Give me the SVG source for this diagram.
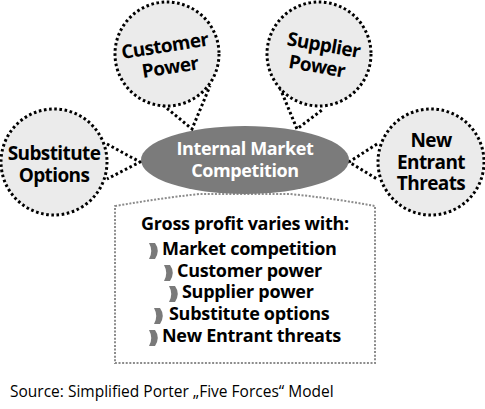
<svg xmlns="http://www.w3.org/2000/svg" width="485" height="409" viewBox="0 0 485 409">
<style>
.force{fill:#ebebeb;stroke:#000;stroke-width:3;stroke-dasharray:2.6 2.6}
.link{fill:none;stroke:#000;stroke-width:3;stroke-dasharray:2.6 2.6}
.lbl{font-family:"Open Sans","Liberation Sans",sans-serif;font-weight:700;font-size:19px;letter-spacing:-0.6px;text-anchor:middle;fill:#000}
.hub{fill:#7b7b7b}
.hubt{font-family:"Open Sans","Liberation Sans",sans-serif;font-weight:700;font-size:18px;letter-spacing:-0.4px;text-anchor:middle;fill:#fff}
.box{fill:#fff;stroke:#8c8c8c;stroke-width:2;stroke-dasharray:2 1.6}
.bt{font-family:"Open Sans","Liberation Sans",sans-serif;font-weight:700;font-size:18px;letter-spacing:-0.3px;fill:#000}
.bul{fill:#7a7a7a}
.src{font-family:"Open Sans","Liberation Sans",sans-serif;font-size:15.5px;fill:#000}
</style>
<defs>
<path id="bullet" d="M0,0 L6,0 Q11.5,7.5 6,16 L0,16 Q4.5,8 0,0 Z"/>
</defs>
<rect width="485" height="409" fill="#fff"/>
<g id="connectors">
<path class="link" d="M163,105 L192,129 L210,86"/>
<path class="link" d="M280,88 L297,129 L322,110"/>
<path class="link" d="M107,144 L140,162 L107,179"/>
<path class="link" d="M377,144 L349,162 L377,179"/>
</g>
<g id="profit-box">
<path class="box" d="M115,206 C145,201 170,197 200,194 L290,194 C320,197 348,201 375,206 L375,363 L115,363 Z"/>
<text class="bt" x="141" y="230">Gross profit varies with:</text>
<use class="bul" href="#bullet" x="149" y="243"/>
<text class="bt" x="162" y="255">Market competition</text>
<use class="bul" href="#bullet" x="164" y="265"/>
<text class="bt" x="177" y="277">Customer power</text>
<use class="bul" href="#bullet" x="169" y="286"/>
<text class="bt" x="182" y="298">Supplier power</text>
<use class="bul" href="#bullet" x="154" y="308"/>
<text class="bt" x="169" y="320">Substitute options</text>
<use class="bul" href="#bullet" x="149" y="330"/>
<text class="bt" x="162" y="342">New Entrant threats</text>
</g>
<g id="internal-market">
<ellipse class="hub" cx="245" cy="160" rx="104" ry="34"/>
<text class="hubt" x="245" y="155">Internal Market</text>
<text class="hubt" x="245" y="177">Competition</text>
</g>
<g id="customer-power">
<circle class="force" cx="167" cy="54" r="52"/>
<g transform="rotate(-9 168 60)">
<text class="lbl" x="167" y="52">Customer</text>
<text class="lbl" x="169" y="74">Power</text>
</g>
</g>
<g id="supplier-power">
<circle class="force" cx="319" cy="54" r="52"/>
<g transform="rotate(10 319 60)">
<text class="lbl" x="321" y="51">Supplier</text>
<text class="lbl" x="318" y="73">Power</text>
</g>
</g>
<g id="substitute-options">
<circle class="force" cx="54" cy="162" r="53"/>
<text class="lbl" x="54" y="160">Substitute</text>
<text class="lbl" x="54" y="182">Options</text>
</g>
<g id="new-entrant-threats">
<circle class="force" cx="431" cy="162" r="53"/>
<text class="lbl" x="431" y="147">New</text>
<text class="lbl" x="431" y="169">Entrant</text>
<text class="lbl" x="431" y="190">Threats</text>
</g>
<text class="src" x="10" y="397">Source: Simplified Porter „Five Forces“ Model</text>
</svg>
